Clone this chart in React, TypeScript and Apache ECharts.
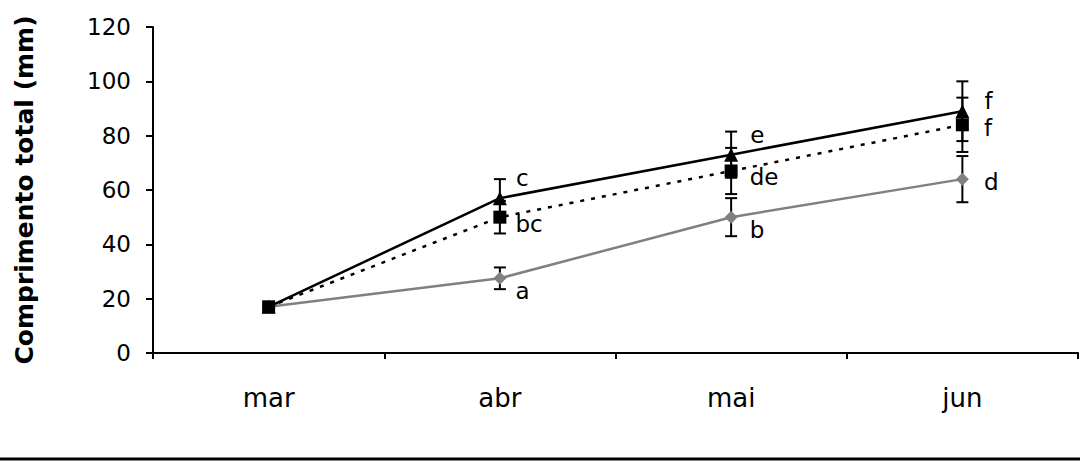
import React, { useEffect, useRef } from "react";
import * as echarts from "echarts";

const categories = ["mar", "abr", "mai", "jun"];
const yTicks = { min: 0, max: 120, interval: 20 };

// triangle series (solid black)
const triMeans = [17, 57, 73, 89];
const triErr = [0, 7, 8.5, 11];
const triLetters = ["", "c", "e", "f"];

// square series (dotted black)
const sqMeans = [17, 50, 67, 84];
const sqErr = [0, 6, 8.5, 10];
const sqLetters = ["", "bc", "de", "f"];

// diamond series (gray)
const grayMeans = [17, 27.5, 50, 64];
const grayErr = [0, 4, 7, 8.5];
const grayLetters = ["", "a", "b", "d"];

const yTitle = "Comprimento total (mm)";

// label offsets (style)
const triOffsets = [[0, 0], [4, -20], [7, -20], [10, -10]];
const sqOffsets = [[0, 0], [4, 7], [7, 6], [10, 3]];
const grayOffsets = [[0, 0], [4, 13], [7, 13], [10, 3]];

const FONT = "'DejaVu Sans', sans-serif";

function errData(means: number[], errs: number[]) {
  return means
    .map((m, i) => (errs[i] > 0 ? [i, m - errs[i], m + errs[i]] : null))
    .filter((d) => d !== null);
}

function pointData(means: number[], letters: string[], offsets: number[][]) {
  return means.map((v, i) => ({
    value: v,
    label: {
      show: !!letters[i],
      formatter: letters[i],
      position: "right",
      offset: offsets[i],
      fontSize: 23,
      fontFamily: FONT,
      color: "#000",
    },
  }));
}

const errRender = (params: any, api: any) => {
  const x = api.value(0);
  const lo = api.coord([x, api.value(1)]);
  const hi = api.coord([x, api.value(2)]);
  const hw = 6;
  const st = { stroke: "#000", lineWidth: 2 };
  return {
    type: "group",
    children: [
      { type: "line", shape: { x1: lo[0], y1: lo[1], x2: hi[0], y2: hi[1] }, style: st },
      { type: "line", shape: { x1: lo[0] - hw, y1: lo[1], x2: lo[0] + hw, y2: lo[1] }, style: st },
      { type: "line", shape: { x1: hi[0] - hw, y1: hi[1], x2: hi[0] + hw, y2: hi[1] }, style: st },
    ],
  };
};

export default function App() {
  const ref = useRef<HTMLDivElement>(null);
  useEffect(() => {
    const chart = echarts.init(ref.current!, null, { renderer: "svg" });
    const option: any = {
      animation: false,
      backgroundColor: "#fff",
      grid: { left: 153, right: 2, top: 27, bottom: 108 },
      xAxis: {
        type: "category",
        data: categories,
        boundaryGap: true,
        axisLine: { lineStyle: { color: "#000", width: 2 } },
        axisTick: { show: true, length: 6, lineStyle: { color: "#000", width: 2 } },
        axisLabel: { color: "#000", fontSize: 26, fontFamily: FONT, margin: 32 },
        splitLine: { show: false },
      },
      yAxis: {
        type: "value",
        min: yTicks.min,
        max: yTicks.max,
        interval: yTicks.interval,
        name: yTitle,
        nameLocation: "middle",
        nameGap: 116,
        nameTextStyle: { color: "#000", fontSize: 25, fontWeight: "bold", fontFamily: FONT },
        axisLine: { show: true, lineStyle: { color: "#000", width: 2 } },
        axisTick: { show: true, length: 7, lineStyle: { color: "#000", width: 2 } },
        axisLabel: { color: "#000", fontSize: 23, fontFamily: FONT, margin: 22 },
        splitLine: { show: false },
      },
      series: [
        { type: "custom", renderItem: errRender, data: errData(grayMeans, grayErr), z: 1 },
        { type: "custom", renderItem: errRender, data: errData(triMeans, triErr), z: 1 },
        { type: "custom", renderItem: errRender, data: errData(sqMeans, sqErr), z: 1 },
        {
          type: "line",
          data: pointData(grayMeans, grayLetters, grayOffsets),
          symbol: "diamond",
          symbolSize: 13,
          itemStyle: { color: "#808080" },
          lineStyle: { color: "#808080", width: 2.5 },
          z: 3,
        },
        {
          type: "line",
          data: pointData(triMeans, triLetters, triOffsets),
          symbol: "triangle",
          symbolSize: 14,
          itemStyle: { color: "#000" },
          lineStyle: { color: "#000", width: 2.5 },
          z: 4,
        },
        {
          type: "line",
          data: pointData(sqMeans, sqLetters, sqOffsets),
          symbol: "rect",
          symbolSize: 13,
          itemStyle: { color: "#000" },
          lineStyle: { color: "#000", width: 2.5, type: [4, 7] },
          z: 5,
        },
      ],
      graphic: [
        {
          type: "line",
          shape: { x1: 0, y1: 459, x2: 1080, y2: 459 },
          style: { stroke: "#000", lineWidth: 3 },
        },
      ],
    };
    chart.setOption(option);
    return () => chart.dispose();
  }, []);
  return (
    <div
      ref={ref}
      style={{ position: "absolute", left: 0, top: 0, width: 1080, height: 461, background: "#fff" }}
    />
  );
}
